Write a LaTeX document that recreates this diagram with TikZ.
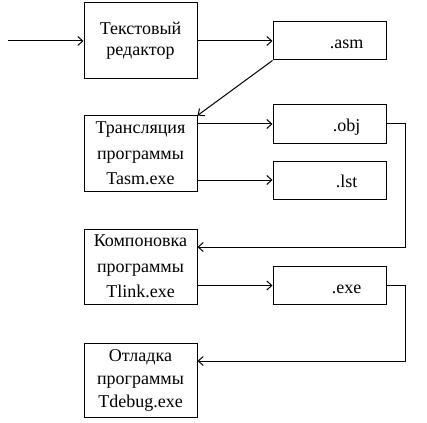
\documentclass[tikz,border=0pt]{standalone}
\usepackage{fontspec}
\setmainfont{Liberation Serif}
\usetikzlibrary{
    positioning,
    calc,
    arrows.meta
}

\tikzset{
    prog/.style={draw, line width=1pt, minimum width=113pt, minimum height=75pt,
        inner sep=0pt, align=center, font=\fontsize{18}{25.5}\selectfont},
    outfile/.style={draw, line width=1pt, minimum width=113pt, minimum height=38pt,
        inner sep=0pt, text height=15pt, text depth=0pt,
        execute at begin node=\hspace*{34pt},
        font=\fontsize{18}{21}\selectfont},
    arr/.style={line width=1pt, -{Straight Barb[length=5pt,width=9pt]}}
}

\begin{document}
\begin{tikzpicture}[x=1pt,y=-1pt]
    \useasboundingbox (0,0) rectangle (427,422);

    % programs
    \node[prog, minimum height=76pt, font=\fontsize{18}{21}\selectfont] (edit) at (140.5,41)  {Текстовый\\редактор};
    \node[prog] (trans) at (140.5,153.5) {Трансляция\\программы\\Tasm.exe};
    \node[prog] (link)  at (140.5,266.5) {Компоновка\\программы\\Tlink.exe};
    \node[prog, minimum height=74pt, font=\fontsize{18}{23}\selectfont] (debug) at (140.5,380) {Отладка\\программы\\Tdebug.exe};

    % files
    \node[outfile] (asm) at (329.5,41)    {.asm};
    \node[outfile] (obj) at (329.5,124)   {.obj};
    \node[outfile] (lst) at (329.5,180)   {.lst};
    \node[outfile] (exe) at (329.5,285.5) {.exe};

    \coordinate (start) at (8,41);

    \draw[arr] (start) -- (edit);
    \draw[arr] (edit) -- (asm);
    \draw[arr] (asm.south west) -- (trans.north east);
    \draw[arr] (trans.east |- obj.west) -- (obj.west);
    \draw[arr] (trans.east |- lst.west) -- (lst.west);
    \draw[arr] (obj.east) -- ++(19,0) |- ([yshift=19.5pt]link.east);
    \draw[arr] (link.east |- exe.west) -- (exe.west);
    \draw[arr] (exe.east) -- ++(19,0) |- ([yshift=19pt]debug.east);
\end{tikzpicture}
\end{document}
